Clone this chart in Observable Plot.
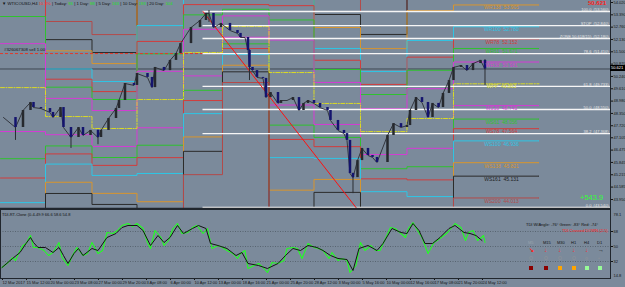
<!DOCTYPE html>
<html><head><meta charset="utf-8">
<script src="https://cdn.jsdelivr.net/npm/d3@7"></script>
<script src="https://cdn.jsdelivr.net/npm/@observablehq/plot@0.6"></script>
<style>
html,body{margin:0;padding:0;background:#7b8a9b;}
#wrap{position:relative;width:625px;height:287px;overflow:hidden;font-family:"Liberation Sans",Arial,sans-serif;background:#7b8a9b;}
#main{position:absolute;left:0;top:0;}
#ind{position:absolute;left:0;top:209px;}
.ov{position:absolute;white-space:nowrap;line-height:1;}
</style></head><body><div id="wrap"><div id="main"></div><div id="ind"></div></div>
<script>
// ---------------- DATA ----------------
// price (WTI, H4) closes, bar index along the x axis
const priceBars = [2,10,15,20,22,27,33,35,40,42,47,52,55,60,65,67,72,77,79,83,89,91,98,101,103,109,113,117,120,127,133,137,139,142,147,153,158,160,163,165,166,168,171,175,177,180,185,187,191,195,199,202,205,209,213,218,220,225,229,231,233,235,238,241,245,248,251,258,262,267,271,273,277,281,285,288,292,295,299,302,307,311,315,320,323];
const priceClose = [48.14,47.63,48.50,48.91,48.65,48.60,48.40,48.14,48.65,47.63,47.12,47.63,47.22,47.48,47.12,47.48,48.09,48.60,49.01,49.88,49.78,50.39,50.19,49.67,50.70,50.54,51.06,51.41,51.92,52.74,53.10,53.46,53.46,52.74,52.95,52.59,52.44,52.23,52.23,51.57,50.70,50.54,50.19,50.14,49.16,49.42,48.86,49.01,49.01,49.16,48.50,48.86,49.01,48.86,48.65,48.50,47.99,47.48,47.32,46.97,45.28,45.07,45.94,46.56,46.20,46.10,45.84,47.22,47.83,47.63,47.73,48.50,49.16,48.91,48.14,48.86,48.65,49.37,50.03,50.70,50.80,50.54,50.90,51.06,50.62];
// long wicks [bar, low, high]
const wicks = [[10,46.97,48.0],[47,46.56,47.6],[65,46.75,47.5],[139,53.0,53.61],[166,50.03,51.6],[235,44.25,45.3],[323,49.78,51.1]];
const bidPrice = 50.621;
const openOrderPrice = 51.41;

// weekly pivots: week start bar, pivot point, prior week range
const weekStart = [0,30,61,91,122,148,179,209,240,271,302];
const weekPP    = [49.67,48.19,47.58,49.06,51.46,52.79,50.44,48.86,47.42,48.09,49.863];
const weekRange = [5.88,2.43,2.40,3.78,3.12,1.43,4.35,2.81,3.07,3.99,2.917];
const currentWeekEnd = 359;
const levelRatios = [2,1.618,1.382,1,0.786,0.618,0.382,0,-0.382,-0.618,-0.786,-1,-1.382,-1.618,-2];
const levelColors = ["#b34a4a","#2b2b2b","#d8952e","#2ec6e6","#d23c3c","#2fc22f","#d63ad6","#d6d622","#d63ad6","#2fc22f","#d23c3c","#2ec6e6","#d8952e","#2b2b2b","#b34a4a"];

// current week labels
const wLabels = ["WR138  53.905","WR100  52.780","WR78  52.152","WR61  51.671","WR38  50.981","WPP  49.863","WS38  48.745","WS61  48.056","WS78  47.564","WS100  46.936","WS138  45.821","WS161  45.131","WS200  44.013"];
const wValues = [53.905,52.780,52.152,51.671,50.981,49.863,48.745,48.056,47.564,46.936,45.821,45.131,44.013];
const wColors = ["#d8952e","#2ec6e6","#d23c3c","#2fc22f","#d63ad6","#e2e22a","#d63ad6","#2fc22f","#d23c3c","#2ec6e6","#d8952e","#1e1e1e","#b34a4a"];
const wLabelBar = 334;

// fibonacci levels (white) drawn from the high to the low
const fibStartBar = 135, fibEndBar = 237;
const fibHigh = 53.56, fibLow = 43.54;
const fibValues = [53.56,52.84,52.18,51.41,49.73,48.55,47.32,43.54];
const fibLabels = ["100.0  (53.560)","STOP  (52.840)","ZONE 50.618(15)  (52.180)","78.6  (51.410)","61.8  (49.733)","50.0  (48.550)","38.2  (47.368)","0.0  (43.540)"];

// right price axis
const priceTicks = [54.020,53.390,52.760,52.130,51.500,50.870,50.240,49.610,48.980,48.350,47.720,47.105,46.475,45.845,45.215,44.585,43.950];

// TDI indicator [bar, value]
const tdiGreen = [[1,24.8],[5,30.8],[8,36.8],[10,33.2],[12,41.6],[15,51.2],[17,53.6],[20,63.2],[22,48.8],[25,48.8],[29,45.2],[32,39.2],[35,42.8],[39,54.8],[41,36.8],[45,27.2],[48,39.2],[51,48.8],[55,39.2],[58,41.6],[61,54.8],[65,41.6],[68,45.2],[71,66.8],[75,65.6],[78,69.2],[81,75.2],[85,77.6],[88,74.0],[91,77.6],[95,71.6],[98,54.8],[100,47.6],[103,69.2],[107,60.8],[109,51.2],[112,57.2],[115,71.6],[118,77.6],[121,65.6],[125,66.8],[128,72.8],[131,75.2],[135,65.6],[138,71.6],[141,47.6],[145,51.2],[148,48.8],[151,45.2],[155,41.6],[158,35.6],[160,41.6],[163,45.2],[165,23.6],[169,27.2],[172,29.6],[175,24.8],[178,18.8],[181,30.8],[185,29.6],[189,33.2],[191,47.6],[195,48.8],[198,47.6],[201,35.6],[205,53.6],[209,48.8],[212,47.6],[215,45.2],[219,35.6],[221,42.8],[225,33.2],[228,35.6],[231,33.2],[233,18.8],[237,27.2],[240,54.8],[243,45.2],[247,51.2],[250,45.2],[253,45.2],[257,60.8],[260,72.8],[263,71.6],[267,65.6],[270,60.8],[272,71.6],[275,78.8],[278,69.2],[281,60.8],[285,41.6],[289,54.8],[293,59.6],[298,66.8],[303,77.6],[307,72.8],[310,57.2],[312,66.8],[315,69.2],[318,57.2],[320,59.6],[322,63.2],[323,54.8]];
const tdiSignal = [[1,24.8],[8,35.6],[13,42.8],[17,53.6],[20,60.8],[22,54.8],[25,48.8],[30,48.8],[35,42.8],[39,48.8],[42,39.2],[45,29.6],[49,41.6],[52,47.6],[55,39.2],[61,47.6],[65,45.2],[71,60.8],[77,65.6],[81,72.8],[85,75.2],[91,75.2],[95,69.2],[100,51.2],[105,63.2],[109,54.8],[113,60.8],[118,75.2],[122,65.6],[128,71.6],[132,75.2],[137,71.6],[140,53.6],[145,51.2],[151,47.6],[157,39.2],[161,42.8],[165,29.6],[172,27.2],[178,23.6],[185,29.6],[190,39.2],[195,47.6],[200,45.2],[205,51.2],[211,48.8],[215,45.2],[220,39.2],[225,35.6],[231,34.4],[235,21.2],[239,47.6],[245,51.2],[251,45.2],[255,53.6],[261,71.6],[267,66.8],[271,65.6],[275,77.6],[279,69.2],[283,53.6],[288,53.6],[293,60.8],[299,71.6],[303,75.2],[309,66.8],[313,65.6],[317,63.2],[321,57.2]];
const tdiLevels = [68,50,32];
const tdiMaxLabel = "78.1", tdiMinLabel = "14.8";

// time axis
const timeTickBars = [1,17,33,49,65,81,97,113,129,145,161,177,193,209,225,241,257,273,289,305,321];
const timeLabels = ["12 Mar 2017","15 Mar 12:00","20 Mar 00:00","23 Mar 08:00","27 Mar 00:00","29 Mar 20:00","3 Apr 08:00","6 Apr 00:00","10 Apr 12:00","13 Apr 00:00","18 Apr 16:00","21 Apr 00:00","25 Apr 20:00","28 Apr 12:00","3 May 00:00","5 May 16:00","10 May 00:00","12 May 16:00","17 May 08:00","21 May 20:00","24 May 12:00"];

// multi time-frame panel
const tfNames = ["M5","M15","M30","H1","H4","D1"];
const tfArrows = ["↘","↓","↓","↓","↓","→"];
const tfArrowColors = ["#ff2020","#ff2020","#ff2020","#ff2020","#ff2020","#101010"];
const tfSquares = ["#8b0000","#8b0000","#ffa500","#ffa500","#98fb98","#98fb98"];

// ---------------- BUILD ----------------
const xDomain = [0, 406.67];
const font = "Liberation Sans, Arial, sans-serif";

const candles = priceBars.map((b,i)=>({bar:b, close:priceClose[i], open: i===0 ? priceClose[0] : priceClose[i-1]}));
const wickRows = wicks.map(([bar,low,high])=>({bar,low,high}));

const pivotRows = [];
weekStart.forEach((b,i)=>levelRatios.forEach((r,j)=>pivotRows.push({bar:b, value:weekPP[i]+r*weekRange[i], level:j})));
const last = weekStart.length-1;
levelRatios.forEach((r,j)=>pivotRows.push({bar:currentWeekEnd, value:weekPP[last]+r*weekRange[last], level:j}));

const fibRows = fibValues.map((v,i)=>({value:v, label:fibLabels[i]}));
const wRows = wValues.map((v,i)=>({value:v, label:wLabels[i], color:wColors[i]}));

const mainPlot = Plot.plot({
  width: 625, height: 209,
  marginTop: 0, marginLeft: 0, marginBottom: 0, marginRight: 15,
  style: {background: "transparent", fontFamily: font, overflow: "visible"},
  x: {domain: xDomain, axis: null},
  y: {domain: [43.95, 54.02], range: [199, 2], axis: null},
  color: {type: "identity"},
  marks: [
    Plot.ruleY([bidPrice], {stroke: "#3e4752", strokeWidth: 1}),
    Plot.line(pivotRows.filter(d=>d.level!==7), {x:"bar", y:"value", z:"level", stroke: d=>levelColors[d.level], curve:"step-after", strokeWidth:1, clip:true}),
    Plot.line(pivotRows.filter(d=>d.level===7), {x:"bar", y:"value", z:"level", stroke:"#dada26", strokeDasharray:"4,1.5,1,1.5", curve:"step-after", strokeWidth:1, clip:true}),
    Plot.ruleY([openOrderPrice], {stroke:"#e03a2a", strokeDasharray:"3,2", strokeWidth:1}),
    Plot.ruleY(fibValues, {x1: fibStartBar, x2: xDomain[1], stroke:"#f6f6f6", strokeWidth:1.3}),
    Plot.line([[fibStartBar,fibHigh],[fibEndBar,fibLow]], {stroke:"#ff1010", strokeWidth:1}),
    Plot.ruleX(wickRows, {x:"bar", y1:"low", y2:"high", stroke:"#2a2d33", strokeWidth:1}),
    Plot.line(candles, {x:"bar", y:"close", stroke:"#2a2d33", strokeWidth:0.9}),
    Plot.ruleX(candles, {x:"bar", y1:"open", y2:"close", stroke: d=> d.close>=d.open ? "#26292e" : "#14146e", strokeWidth:2.5}),
    Plot.text(fibRows, {y:"value", text:"label", frameAnchor:"right", textAnchor:"end", dx:-2, dy:-2, fill:"#e6e6e6", fontSize:4}),
    Plot.text(wRows, {x: ()=>wLabelBar, y:"value", text:"label", fill:"color", dy:3, fontSize:5}),
    Plot.axisY({anchor:"right", ticks: priceTicks, tickFormat: d=>d.toFixed(3), tickSize:2, tickPadding:1, fontSize:4, color:"#151515", label:null}),
    Plot.ruleX([xDomain[1]], {stroke:"#20262d", strokeWidth:1}),
    Plot.ruleY([43.49], {stroke:"#20262d", strokeWidth:1.5})
  ]
});
document.getElementById("main").appendChild(mainPlot);

const greenRows = tdiGreen.map(([bar,v])=>({bar,v}));
const sigRows = tdiSignal.map(([bar,v])=>({bar,v}));
const labelByBar = new Map(timeTickBars.map((b,i)=>[b,timeLabels[i]]));

const indPlot = Plot.plot({
  width: 625, height: 78,
  marginTop: 0, marginLeft: 0, marginBottom: 9, marginRight: 15,
  style: {background: "transparent", fontFamily: font, overflow: "visible"},
  x: {domain: xDomain, axis: null},
  y: {domain: [5, 95], range: [74.5, -0.5], axis: null},
  marks: [
    Plot.ruleY(tdiLevels, {stroke:"#4f5a66", strokeDasharray:"1,1.5", strokeWidth:0.8}),
    Plot.line(greenRows, {x:"bar", y:"v", stroke:"#22ff22", strokeWidth:1.1, clip:true}),
    Plot.line(sigRows, {x:"bar", y:"v", stroke:"#151515", strokeWidth:1, clip:true}),
    Plot.axisY({anchor:"right", ticks: tdiLevels, tickSize:2, tickPadding:1, fontSize:4, color:"#151515", label:null}),
    Plot.text([tdiMaxLabel], {text: d=>d, frameAnchor:"top-right", textAnchor:"start", dx:3, dy:4, fontSize:4, fill:"#151515"}),
    Plot.text([tdiMinLabel], {text: d=>d, frameAnchor:"bottom-right", textAnchor:"start", dx:3, dy:-2, fontSize:4, fill:"#151515"}),
    Plot.axisX({anchor:"bottom", ticks: timeTickBars, tickFormat: d=>labelByBar.get(d), tickSize:2, tickPadding:1, textAnchor:"start", dx:0.5, fontSize:4, color:"#151515", label:null}),
    Plot.frame({stroke:"#20262d", strokeWidth:1})
  ]
});
document.getElementById("ind").appendChild(indPlot);

// ---------------- TEXT OVERLAYS ----------------
const wrap = document.getElementById("wrap");
function ov(text, left, top, size, color, extra){
  const d = document.createElement("div");
  d.className = "ov"; d.textContent = text;
  d.style.left = left+"px"; d.style.top = top+"px"; d.style.fontSize = size+"px"; d.style.color = color;
  if (extra) Object.assign(d.style, extra);
  wrap.appendChild(d); return d;
}
// header
const hdr = document.createElement("div");
hdr.className = "ov"; hdr.style.left="2px"; hdr.style.top="2px"; hdr.style.fontSize="4.3px"; hdr.style.color="#111";
hdr.innerHTML = '▼ WTICOUSD,H4 <span style="color:#ff3030">10.3%</span> | Today: <span style="color:#20e020">93</span> | 1 Day: <span style="color:#20e020">88</span> | 5 Day: <span style="color:#20e020">163</span> | 10 Day: <span style="color:#20e020">193</span> | 20 Day: <span style="color:#20e020">104</span>';
wrap.appendChild(hdr);
ov("#326067308 sell 1.00", 4, 48, 4.3, "#111");
ov("50.621", 588, 0, 6, "#ff2020", {fontWeight:"bold"});
ov("+543.9", 580, 194, 7.5, "#33ff33");
const ys = mainPlot.scale("y");
ov("50.621", 610, ys.apply(bidPrice)-3, 4, "#ffffff", {background:"#000", padding:"1px 1px", width:"13px"});

// TDI texts
ov("TDI-RT-Clone (0.4-49.9 66.6 58.6 54.8", 2, 213, 4, "#111");
ov("TDI W/Angle: -76°   Green: -83°   Red: -74°", 526, 223, 4, "#111");
ov("TDI Crossed DOWN (2.5)", 562, 229, 4, "#ff2020");
const tfX = [528,543,557,571,584,597];
tfNames.forEach((n,i)=>{
  ov(n, tfX[i], 241, 4, i===0 ? "#9aa3ad" : "#111");
  ov(tfArrows[i], tfX[i]+1, 247, 6, tfArrowColors[i], {fontWeight:"bold"});
  ov(i<4 ? "O" : (i===4 ? "o" : "•"), tfX[i]+1, 256, 5, "#8a9099", {fontWeight:"bold"});
  ov("", tfX[i]+1, 266, 4, "#000", {width:"3.5px", height:"3.5px", background: tfSquares[i]});
});
</script></body></html>
